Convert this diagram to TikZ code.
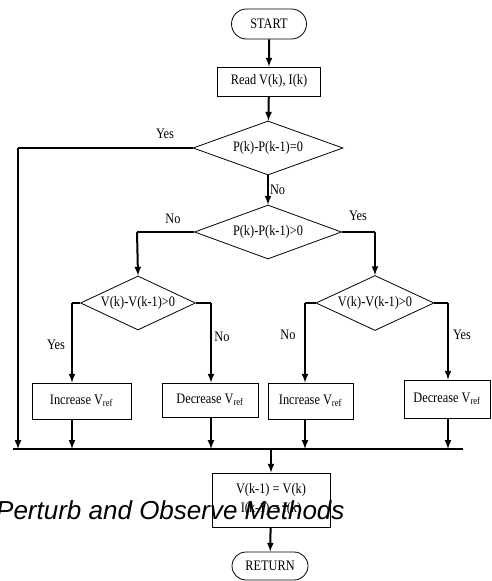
\documentclass[tikz,border=0pt]{standalone}
\usepackage{fontspec}
\setmainfont{Liberation Serif}
\newfontfamily\chartfont[FakeStretch=0.85]{Liberation Serif}
\newfontfamily\captionfont{Liberation Sans}
\usetikzlibrary{shapes.geometric, shapes.misc, calc}

\tikzset{
	chart/.style = {font = \chartfont\fontsize{14.5}{17}\selectfont},
	terminal/.style = {chart, draw, rounded rectangle, line width = 0.8pt, inner sep = 0pt},
	process/.style = {chart, draw, rectangle, line width = 0.8pt, inner sep = 0pt, align = center},
	decision/.style = {chart, draw, diamond, line width = 0.8pt, inner sep = 0pt},
	branch/.style = {chart, inner sep = 1pt},
	flow/.style = {line width = 2pt},
}

\begin{document}
\begin{tikzpicture}[x = 1pt, y = -1pt]
			\useasboundingbox (0, 0) rectangle (491, 581);
			% blocks
			\node[terminal, minimum width = 75, minimum height = 30] (start) at (269, 24) {START};
			\node[process, minimum width = 103, minimum height = 29] (read) at (269, 81.5) {Read V(k), I(k)};
			\node[decision, aspect = 2.78, minimum width = 150, minimum height = 54] (dzero) at (268, 148) {P(k)-P(k-1)=0};
			\node[decision, aspect = 2.72, minimum width = 147, minimum height = 54] (dpower) at (268, 232) {P(k)-P(k-1)>0};
			\node[decision, aspect = 2.13, minimum width = 115, minimum height = 54] (dvleft) at (138, 303) {V(k)-V(k-1)>0};
			\node[decision, aspect = 2.15, minimum width = 118, minimum height = 55] (dvright) at (375, 303) {V(k)-V(k-1)>0};
			\node[process, minimum width = 99, minimum height = 36] (incleft) at (81.5, 401) {Increase V\textsubscript{ref}};
			\node[process, minimum width = 96, minimum height = 34] (decleft) at (210, 400) {Decrease V\textsubscript{ref}};
			\node[process, minimum width = 85, minimum height = 36] (incright) at (310.5, 401) {Increase V\textsubscript{ref}};
			\node[process, minimum width = 86, minimum height = 38] (decright) at (447, 399) {Decrease V\textsubscript{ref}};
			\node[process, minimum width = 118, minimum height = 54] (update) at (271, 500) {V(k-1) = V(k)\\[2pt] I(k-1) = I(k)};
			\node[terminal, minimum width = 76, minimum height = 28] (return) at (270, 566) {RETURN};
			% bus
			\coordinate (busleft) at (13, 449);
			\coordinate (busright) at (463, 449);
			\draw[flow] (busleft) -- (busright);
			% connectors
			\draw[flow, -latex] (start) -- (read);
			\draw[flow, -latex] (read) -- (dzero);
			\draw[flow, -latex] (dzero) -- (dpower) node[branch, pos = 0.5, right] (nozero) {No};
			\draw[flow] (dzero.west) -- (18, 148) coordinate (cyes);
			\draw[flow, -latex] (cyes) -- (cyes |- busleft);
			\node[branch] (yeszero) at (165, 134) {Yes};
			\draw[flow] (dpower.west) -- (137, 232) coordinate (cno);
			\draw[flow, -latex] (cno) -- (dvleft.north);
			\node[branch] (nopower) at (173, 219) {No};
			\draw[flow] (dpower.east) -- (375, 232) coordinate (cpos);
			\draw[flow, -latex] (cpos) -- (dvright.north);
			\node[branch] (yespower) at (358, 216) {Yes};
			\draw[flow] (dvleft.west) -- (72, 303) coordinate (cla);
			\draw[flow, -latex] (cla) -- (cla |- incleft.north);
			\draw[flow, -latex] (incleft.south -| cla) -- (cla |- busleft);
			\node[branch] (yesla) at (56, 345) {Yes};
			\draw[flow] (dvleft.east) -- (211, 303) coordinate (clb);
			\draw[flow, -latex] (clb) -- (clb |- decleft.north);
			\draw[flow, -latex] (decleft.south -| clb) -- (clb |- busleft);
			\node[branch] (nolb) at (222, 337) {No};
			\draw[flow] (dvright.west) -- (305, 303) coordinate (cra);
			\draw[flow, -latex] (cra) -- (cra |- incright.north);
			\draw[flow, -latex] (incright.south -| cra) -- (cra |- busleft);
			\node[branch] (nora) at (288, 335) {No};
			\draw[flow] (dvright.east) -- (448, 303) coordinate (crb);
			\draw[flow, -latex] (crb) -- (crb |- decright.north);
			\draw[flow, -latex] (decright.south -| crb) -- (crb |- busleft);
			\node[branch] (yesrb) at (462, 335) {Yes};
			\draw[flow, -latex] (update.north |- busleft) -- (update.north);
			\draw[flow, -latex] (update) -- (return);
			% caption
			\node[anchor = base west, inner sep = 0pt, font = \captionfont\itshape\fontsize{26}{30}\selectfont] (caption) at (-4, 519) {Perturb and Observe Methods};
		\end{tikzpicture}
\end{document}
